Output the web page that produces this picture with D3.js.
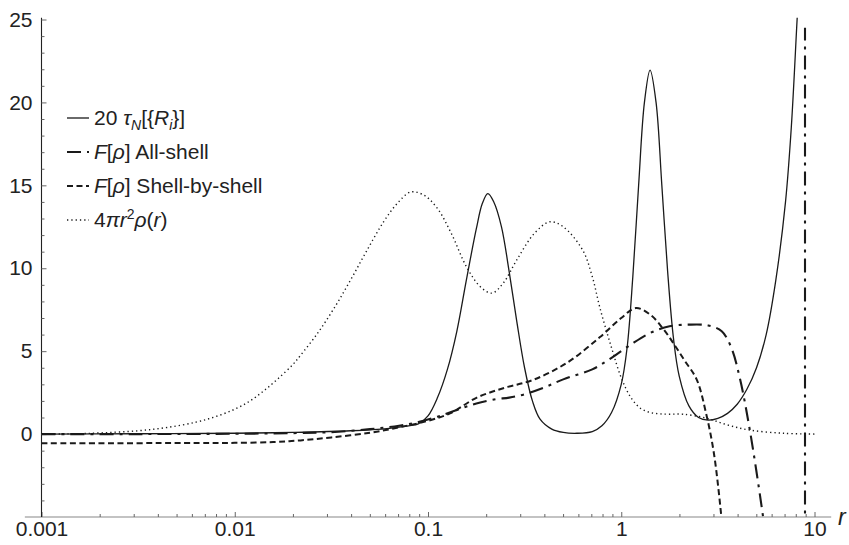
<!DOCTYPE html>
<html>
<head>
<meta charset="utf-8">
<script src="https://cdn.jsdelivr.net/npm/d3@7/dist/d3.min.js"></script>
<style>
  html, body { margin: 0; padding: 0; background: #fff; }
  svg { display: block; }
  text { font-family: "Liberation Sans", Arial, Helvetica, sans-serif; fill: #222; }
</style>
</head>
<body>
<svg id="chart" width="849" height="545"></svg>
<script>
// ---------- data ----------
// 20 tau_N[{R_i}]  (solid)
const tauN = [
  [0.001,0],[0.00316,0.02],[0.01,0.05],[0.02,0.1],[0.0398,0.2],[0.0631,0.35],[0.0794,0.5],
  [0.0891,0.62],[0.1,1.1],[0.112,2.2],[0.126,3.9],[0.141,6.2],[0.158,9.3],[0.178,12.4],
  [0.191,13.9],[0.204,14.5],[0.219,14.0],[0.240,12.5],[0.263,9.8],[0.288,6.8],[0.316,4.0],
  [0.347,2.0],[0.380,0.9],[0.437,0.3],[0.501,0.1],[0.589,0.05],[0.708,0.15],[0.794,0.5],
  [0.891,1.3],[1,3.0],[1.072,5.2],[1.148,9.5],[1.230,15.0],[1.318,20.0],[1.41,21.95],
  [1.514,20.0],[1.622,15.0],[1.738,9.8],[1.862,5.8],[1.995,3.5],[2.239,1.7],[2.512,1.0],
  [2.818,0.84],[3.162,0.95],[3.548,1.25],[3.981,1.8],[4.467,2.7],[5.012,4.0],[5.623,6.0],
  [6.31,9.3],[7.079,14.0],[7.586,18.5],[8.128,25.0],[8.4,28.0]
];
// F[rho] All-shell  (dot-dashed); null marks a break in the curve
const allShell = [
  [0.001,0],[0.00316,0],[0.01,0.02],[0.02,0.06],[0.0316,0.12],[0.0501,0.3],[0.0708,0.5],
  [0.0891,0.72],[0.112,1.05],[0.141,1.45],[0.178,1.85],[0.224,2.1],[0.263,2.2],[0.316,2.4],
  [0.398,2.8],[0.501,3.3],[0.708,3.9],[0.891,4.6],[1.122,5.4],[1.413,6.1],[1.778,6.5],
  [2.239,6.6],[2.818,6.55],[3.311,6.2],[3.715,5.2],[4.121,3.3],[4.634,0.2],[5.42,-5],[5.623,-6.5],
  null,
  [8.93,-6.0],[8.93,24.5]
];
// F[rho] Shell-by-shell  (dashed)
const shellByShell = [
  [0.001,-0.55],[0.0066,-0.54],[0.01,-0.53],[0.0158,-0.48],[0.0219,-0.38],[0.0316,-0.2],
  [0.0501,0.08],[0.0716,0.42],[0.1,0.8],[0.130,1.25],[0.179,2.2],[0.251,2.8],[0.349,3.26],
  [0.524,4.3],[0.776,5.85],[1,7.0],[1.191,7.6],[1.413,7.2],[1.660,6.3],[1.905,5.3],
  [2.138,4.4],[2.455,3.3],[2.754,1.2],[3.02,-1.2],[3.311,-5.2],[3.388,-6.5]
];
// 4 pi r^2 rho(r)  (dotted)
const radialDensity = [
  [0.001,0],[0.0015,0.02],[0.002,0.07],[0.00316,0.2],[0.00447,0.4],[0.0063,0.72],
  [0.00794,1.05],[0.01,1.5],[0.012,2.0],[0.0141,2.6],[0.0166,3.3],[0.02,4.2],[0.0219,4.75],
  [0.0269,6.1],[0.0331,7.7],[0.0398,9.3],[0.0479,11.0],[0.0589,12.8],[0.0692,13.9],[0.0813,14.6],
  [0.0955,14.4],[0.112,13.6],[0.132,12.1],[0.158,10.1],[0.186,8.9],[0.214,8.5],[0.245,9.1],
  [0.288,10.5],[0.355,12.1],[0.427,12.8],[0.501,12.5],[0.631,11.1],[0.708,9.5],[0.776,7.6],
  [0.891,5.2],[1,3.4],[1.122,2.2],[1.259,1.55],[1.413,1.3],[1.585,1.22],[1.778,1.2],[2.089,1.2],
  [2.754,0.96],[3.548,0.55],[4.634,0.24],[6.918,0.05],[10,0]
];

const xMajorTicks = [0.001, 0.01, 0.1, 1, 10];
const xTickLabels = ["0.001", "0.01", "0.1", "1", "10"];
const yMajorTicks = [0, 5, 10, 15, 20, 25];
const yTickLabels = ["0", "5", "10", "15", "20", "25"];
const xAxisExtent = [0.00082, 12.2];
const yExtent = [-5, 25];

// ---------- drawing ----------
const svg = d3.select("#chart");
const x = d3.scaleLog().domain([0.001, 10]).range([41.5, 814.5]);
const y = d3.scaleLinear().domain(yExtent).range([517, 19.5]);

// minor tick values
const xMinor = [];
for (let d = -3; d < 1; d++) for (let k = 2; k <= 9; k++) xMinor.push(k * Math.pow(10, d));
const yMinor = d3.range(-4, 26).filter(v => v % 5 !== 0);

const axisColor = "#666";
const tickFont = 21;

// x axis
const gx = svg.append("g").attr("transform", `translate(0,${y(-5)})`);
gx.append("line")
  .attr("x1", x(xAxisExtent[0])).attr("x2", x(xAxisExtent[1]))
  .attr("stroke", "#888").attr("stroke-width", 1.1);
gx.append("g").call(d3.axisBottom(x).tickValues(xMinor).tickSize(-3).tickFormat(""))
  .call(g => g.select(".domain").remove())
  .call(g => g.selectAll("line").attr("stroke", axisColor));
gx.append("g").call(d3.axisBottom(x).tickValues(xMajorTicks).tickSize(-5).tickPadding(4)
    .tickFormat((d, i) => xTickLabels[i]))
  .call(g => g.select(".domain").remove())
  .call(g => g.selectAll("line").attr("stroke", axisColor))
  .call(g => g.selectAll("text").attr("font-size", tickFont).attr("fill", "#222")
     .style("font-family", '"Liberation Sans", Arial, sans-serif'));

svg.append("text").attr("x", 838).attr("y", 525)
  .attr("font-size", 23).attr("font-style", "italic").text("r");

// y axis
const gy = svg.append("g").attr("transform", `translate(${x(0.001)},0)`);
gy.append("line").attr("y1", y(-5)).attr("y2", y(25.1))
  .attr("stroke", "#222").attr("stroke-width", 1.1);
gy.append("g").call(d3.axisLeft(y).tickValues(yMinor).tickSize(-3).tickFormat(""))
  .call(g => g.select(".domain").remove())
  .call(g => g.selectAll("line").attr("stroke", axisColor));
gy.append("g").call(d3.axisLeft(y).tickValues(yMajorTicks).tickSize(-5).tickPadding(9)
    .tickFormat((d, i) => yTickLabels[i]))
  .call(g => g.select(".domain").remove())
  .call(g => g.selectAll("line").attr("stroke", axisColor))
  .call(g => g.selectAll("text").attr("font-size", tickFont).attr("fill", "#222")
     .style("font-family", '"Liberation Sans", Arial, sans-serif'));

// clip
svg.append("clipPath").attr("id", "plotclip").append("rect")
  .attr("x", x(0.001)).attr("y", y(25.1))
  .attr("width", x(xAxisExtent[1]) - x(0.001)).attr("height", y(-5) - y(25.1));

const line = d3.line()
  .defined(d => d !== null)
  .x(d => x(d[0])).y(d => y(d[1]))
  .curve(d3.curveCatmullRom.alpha(0.5));

const styles = {
  solid:   { w: 1.3, dash: null },
  dashdot: { w: 2.1, dash: "14,6,3,6" },
  dashed:  { w: 2.0, dash: "6,3.5" },
  dotted:  { w: 1.4, dash: "1.3,3" }
};

const series = [
  { data: radialDensity, st: styles.dotted },
  { data: shellByShell, st: styles.dashed },
  { data: allShell, st: styles.dashdot },
  { data: tauN, st: styles.solid }
];

const gp = svg.append("g").attr("clip-path", "url(#plotclip)");
series.forEach(s => {
  gp.append("path").attr("d", line(s.data))
    .attr("fill", "none").attr("stroke", "#1a1a1a")
    .attr("stroke-width", s.st.w)
    .attr("stroke-dasharray", s.st.dash);
});

// legend
const legendRows = [
  { st: styles.solid, baseline: 125, parts: [
      ["20 ", {}], ["τ", {it: 1}], ["N", {it: 1, sub: 1}], ["[{", {}], ["R", {it: 1}],
      ["i", {it: 1, sub: 1}], ["}]", {}] ] },
  { st: styles.dashdot, baseline: 159, parts: [
      ["F", {it: 1}], ["[", {}], ["ρ", {it: 1}], ["] All-shell", {}] ] },
  { st: styles.dashed, baseline: 193, parts: [
      ["F", {it: 1}], ["[", {}], ["ρ", {it: 1}], ["] Shell-by-shell", {}] ] },
  { st: styles.dotted, baseline: 227, parts: [
      ["4", {}], ["π", {it: 1}], ["r", {it: 1}], ["2", {sup: 1}], ["ρ", {it: 1}], ["(", {}],
      ["r", {it: 1}], [")", {}] ] }
];
const lg = svg.append("g");
legendRows.forEach(row => {
  lg.append("line").attr("x1", 67).attr("x2", 89)
    .attr("y1", row.baseline - 7).attr("y2", row.baseline - 7)
    .attr("stroke", "#1a1a1a").attr("stroke-width", row.st.w)
    .attr("stroke-dasharray", row.st.dash);
  const t = lg.append("text").attr("x", 94).attr("y", row.baseline).attr("font-size", 21);
  let shift = 0;
  row.parts.forEach(([txt, o]) => {
    const ts = t.append("tspan").text(txt);
    if (o.it) ts.attr("font-style", "italic");
    let target = 0;
    if (o.sub) { target = 5; ts.attr("font-size", 14); }
    if (o.sup) { target = -8; ts.attr("font-size", 14); }
    if (target !== shift) { ts.attr("dy", target - shift); shift = target; }
  });
});
</script>
</body>
</html>
